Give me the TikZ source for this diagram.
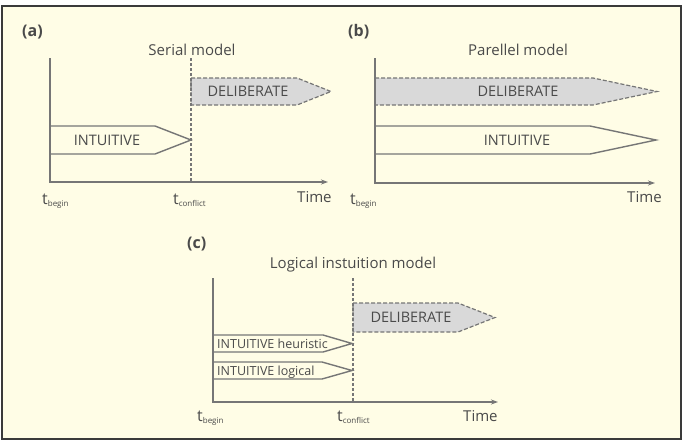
\documentclass[tikz,border=0pt]{standalone}
\usepackage{fontspec}
\setmainfont{Open Sans}
\usetikzlibrary{arrows.meta}
\definecolor{paper}{HTML}{FFFDE6}
\definecolor{ink}{HTML}{4A4A4A}
\definecolor{rulegray}{HTML}{767676}
\definecolor{shade}{HTML}{D9D9D9}
\definecolor{framegray}{HTML}{3A3A3A}
\newcommand{\tlab}[1]{{\fontsize{16}{16}\selectfont t}\raisebox{-2.5pt}{\fontsize{8}{8}\selectfont #1}}

\begin{document}
\begin{tikzpicture}[x=1pt,y=-1pt,
        txt/.style={text=ink, inner sep=0pt, font=\fontsize{15}{18}\selectfont},
        boxtxt/.style={txt, font=\fontsize{14.5}{17}\selectfont},
        smalltxt/.style={txt, font=\fontsize{12.5}{15}\selectfont},
        letter/.style={txt, font=\bfseries\fontsize{16}{19}\selectfont},
        timeaxis/.style={rulegray, line width=1.4pt, -{Stealth[length=7pt,width=5pt]}},
        conflict/.style={rulegray, line width=1.2pt, dash pattern=on 3pt off 2pt},
        intu/.style={rulegray, line width=1.4pt},
        delib/.style={rulegray, line width=1.2pt, dash pattern=on 4pt off 2pt, fill=shade}]
        \useasboundingbox (0,0) rectangle (684,444);
        \fill[white] (0,0) rectangle (684,444);
        \filldraw[fill=paper, draw=framegray, line width=1.6pt] (2,6) rectangle (681,439);

        % (a) serial model
        \node[letter, anchor=base west] (la) at (22,37) {(a)};
        \node[txt, anchor=base] (ta) at (192,56) {Serial model};
        \coordinate (a0) at (50,182);
        \draw[delib] (191,78) -- (297,78) -- (331,91.5) -- (297,105) -- (191,105) -- cycle;
        \draw[intu] (50,126) -- (155,126) -- (191,140) -- (155,154) -- (50,154);
        \draw[conflict] (191,58) -- (191,182);
        \draw[timeaxis] (50,58) -- (a0) -- (328,182);
        \node[boxtxt] (da) at (248,91.5) {DELIBERATE};
        \node[boxtxt] (ia) at (107,140) {INTUITIVE};
        \node[txt, anchor=base west] (ba) at (42,204) {\tlab{begin}};
        \node[txt, anchor=base west] (ca) at (173,204) {\tlab{conflict}};
        \node[txt, anchor=base west] (xa) at (297,202) {Time};

        % (b) parallel model
        \node[letter, anchor=base west] (lb) at (348,37) {(b)};
        \node[txt, anchor=base] (tb) at (518,56) {Parellel model};
        \coordinate (b0) at (375,183);
        \draw[delib] (375,78) -- (593,78) -- (657,91.5) -- (593,105) -- (375,105) -- cycle;
        \draw[intu] (375,126) -- (590,126) -- (656,140) -- (590,154) -- (375,154);
        \draw[timeaxis] (375,58) -- (b0) -- (655,183);
        \node[boxtxt] (db) at (518,91.5) {DELIBERATE};
        \node[boxtxt] (ib) at (517,140) {INTUITIVE};
        \node[txt, anchor=base west] (bb) at (350,204) {\tlab{begin}};
        \node[txt, anchor=base west] (xb) at (627,202) {Time};

        % (c) logical intuition model
        \node[letter, anchor=base west] (lc) at (187,248) {(c)};
        \node[txt, anchor=base] (tc) at (353,268) {Logical instuition model};
        \coordinate (c0) at (213,402);
        \draw[delib] (353,303) -- (458,303) -- (495,317.5) -- (458,332) -- (353,332) -- cycle;
        \draw[intu] (213,335) -- (323,335) -- (352,343.5) -- (323,352) -- (213,352);
        \draw[intu] (213,362) -- (322,362) -- (352,370.5) -- (322,379) -- (213,379);
        \draw[conflict] (353,278) -- (353,402);
        \draw[timeaxis] (213,278) -- (c0) -- (498,402);
        \node[boxtxt] (dc) at (411,317.5) {DELIBERATE};
        \node[smalltxt, anchor=base west] (hc) at (217,348.5) {INTUITIVE heuristic};
        \node[smalltxt, anchor=base west] (gc) at (217,375) {INTUITIVE logical};
        \node[txt, anchor=base west] (bc) at (197,421) {\tlab{begin}};
        \node[txt, anchor=base west] (cc) at (337,421) {\tlab{conflict}};
        \node[txt, anchor=base west] (xc) at (463,421) {Time};
    \end{tikzpicture}
\end{document}
